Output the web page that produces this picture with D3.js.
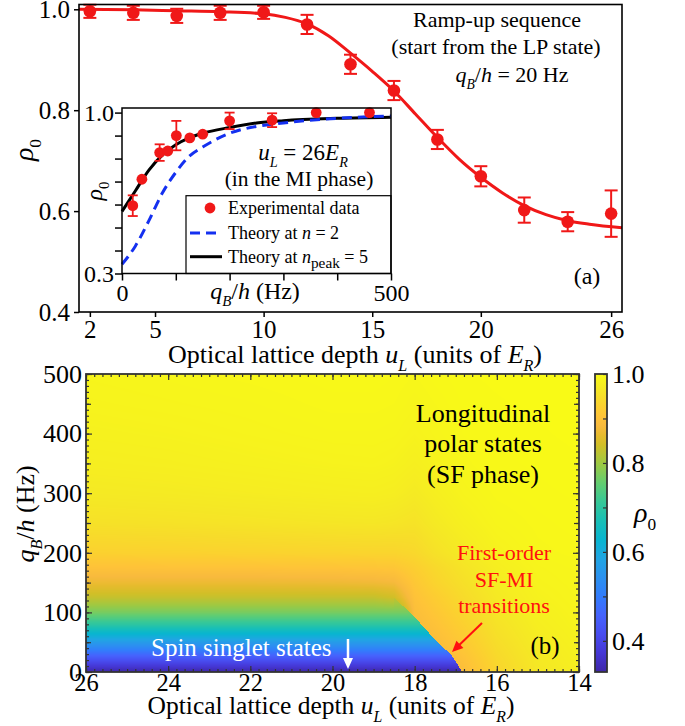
<!DOCTYPE html>
<html>
<head>
<meta charset="utf-8">
<script src="https://cdn.jsdelivr.net/npm/d3@7"></script>
<style>
body{margin:0;background:#fff}
svg{display:block}
text{font-family:"Liberation Serif","Times New Roman",serif}
</style>
</head>
<body>
<div id="chart"></div>
<script>
// ---- panel (a): ramp-up data and fit
var rampU=[2,4,6,8,10,12,14,16,18,20,22,24,26];
var rampRho=[0.996,0.993,0.987,0.993,0.994,0.970,0.891,0.839,0.742,0.669,0.602,0.579,0.595];
var rampErr=[0.013,0.014,0.014,0.014,0.013,0.019,0.019,0.019,0.019,0.020,0.025,0.019,0.046];
var fitU=[1.5,4,6,8,10,11,12,13,14,15,16,17,18,19,20,21,22,23,24,25,26.5];
var fitRho=[1.0,0.999,0.997,0.995,0.991,0.984,0.971,0.947,0.913,0.877,0.838,0.792,0.746,0.703,0.667,0.636,0.611,0.593,0.581,0.574,0.567];
var xTicksA=[2,5,10,15,20,26];
var yTicksA=[0.4,0.6,0.8,1.0];

// ---- inset: rho0 vs qB/h at uL = 26 ER
var insetQ=[20,37,70,85,101,126,150,200,279,361,460];
var insetRho=[0.595,0.71,0.826,0.833,0.90,0.89,0.906,0.964,0.967,1.0,1.0];
var insetErr=[0.045,0.01,0.036,0.01,0.064,0.01,0.01,0.036,0.03,0,0];
var theoryQ=[0,25,50,75,100,125,150,200,250,300,400,500];
var theoryN2=[0.34,0.42,0.53,0.65,0.74,0.81,0.85,0.91,0.94,0.955,0.975,0.985];
var theoryPeak=[0.57,0.66,0.75,0.815,0.86,0.89,0.91,0.935,0.955,0.965,0.975,0.98];

// ---- panel (b): rho0 map, rows = mapQ, columns = mapU
var mapU=[14,15,16,16.8,17.5,18,18.5,19,20,22,24,26];
var mapQ=[0,20,40,60,80,100,125,150,175,200,250,300,350,400,450,500];
var mapRho=[
 [0.978,0.965,0.935,0.893,0.875,0.870,0.33,0.33,0.33,0.33,0.33,0.33],
 [0.980,0.968,0.940,0.902,0.880,0.872,0.42,0.42,0.42,0.42,0.42,0.42],
 [0.982,0.971,0.946,0.912,0.887,0.875,0.52,0.52,0.52,0.52,0.52,0.52],
 [0.984,0.974,0.952,0.920,0.895,0.880,0.61,0.61,0.61,0.61,0.61,0.61],
 [0.986,0.977,0.957,0.928,0.903,0.886,0.70,0.70,0.70,0.70,0.70,0.70],
 [0.987,0.980,0.962,0.936,0.911,0.893,0.77,0.77,0.77,0.77,0.77,0.77],
 [0.989,0.983,0.968,0.945,0.921,0.902,0.84,0.83,0.83,0.83,0.83,0.83],
 [0.990,0.986,0.973,0.953,0.933,0.912,0.88,0.875,0.872,0.87,0.87,0.87],
 [0.991,0.988,0.977,0.960,0.941,0.924,0.910,0.908,0.906,0.904,0.903,0.902],
 [0.993,0.991,0.983,0.970,0.955,0.940,0.935,0.935,0.934,0.932,0.930,0.929],
 [0.995,0.993,0.989,0.980,0.969,0.958,0.962,0.964,0.963,0.960,0.957,0.955],
 [0.996,0.995,0.993,0.987,0.978,0.970,0.976,0.978,0.977,0.974,0.971,0.969],
 [0.997,0.996,0.995,0.991,0.985,0.979,0.984,0.986,0.985,0.982,0.979,0.977],
 [0.998,0.997,0.996,0.994,0.989,0.985,0.989,0.990,0.990,0.987,0.984,0.982],
 [0.998,0.998,0.997,0.996,0.992,0.989,0.992,0.993,0.993,0.990,0.988,0.986],
 [0.999,0.999,0.998,0.997,0.995,0.992,0.994,0.995,0.995,0.993,0.991,0.989]
];
// spin-singlet (MI) branch below the first-order line
var miQ=[0,20,40,60,80,100,125,150];
var miRho=[0.33,0.42,0.52,0.61,0.70,0.77,0.83,0.87];
// first-order SF-MI line
var transU=[16.84,17.1,17.5,18.0,18.5];
var transQ=[0,28,54,92,125];
var xTicksB=[26,24,22,20,18,16,14];
var yTicksB=[0,100,200,300,400,500];
var cbTicks=[0.4,0.6,0.8,1.0];

// parula colour stops
var parulaT=[0,4,8,12,16,20,24,28,32,36,40,44,48,50,52,54,56,58,60,62,63].map(function(i){return i/63});
var parulaC=["#3e26a8","#4537d5","#484df0","#4563fd","#327cfc","#2b91ef","#20a5e3","#08b5d0","#19bfb6","#37c897","#64cd6f","#9dc943","#d1bf27","#e6bb2d","#f8ba3d","#fec338","#fccf30","#f7dc2a","#f5e924","#f7f51b","#f9fb15"];

var W=685,H=726;
var RED="#f01818";
var svg=d3.select("#chart").append("svg").attr("width",W).attr("height",H);

function rich(sel,parts,size){
    var cur=0;
    parts.forEach(function(p){
        var ts=sel.append("tspan").text(p.t);
        var shift=p.sub?size*0.3:0;
        ts.attr("dy",shift-cur);
        cur=shift;
        if(p.sub) ts.attr("font-size",size*(p.small||0.62));
        if(p.i) ts.attr("font-style","italic");
    });
    return sel;
}
function addText(x,y,parts,size,anchor,fill,rot){
    var t=svg.append("text")
        .attr("font-size",size)
        .attr("text-anchor",anchor||"start")
        .attr("fill",fill||"#000");
    if(rot) t.attr("transform","translate("+x+","+y+") rotate("+rot+")");
    else t.attr("x",x).attr("y",y);
    if(typeof parts=="string") t.text(parts); else rich(t,parts,size);
    return t;
}
function interp(xs,ys,x){
    var i=Math.min(Math.max(d3.bisectRight(xs,x)-1,0),xs.length-2);
    var f=(x-xs[i])/(xs[i+1]-xs[i]);
    f=Math.max(0,Math.min(1,f));
    return ys[i]+(ys[i+1]-ys[i])*f;
}
function styleAxis(size,col){
    return function(g){
        g.select(".domain").remove();
        g.selectAll("line").attr("stroke",col||"#000").attr("stroke-width",1.5);
        g.selectAll("text").attr("font-size",size).attr("font-family","Liberation Serif").attr("fill","#000");
    };
}

// ================= panel (a)
var xA=d3.scaleLinear().domain([1.5,26.5]).range([79,622]);
var yA=d3.scaleLinear().domain([0.4,1.0095]).range([312,4.5]);

var gA=svg.append("g");
gA.append("g").attr("transform","translate(0,312)")
    .call(d3.axisBottom(xA).tickValues(xTicksA).tickSize(5).tickPadding(3).tickFormat(d3.format("d")))
    .call(styleAxis(25));
gA.append("g").attr("transform","translate(79,0)")
    .call(d3.axisLeft(yA).tickValues(yTicksA).tickSize(5).tickPadding(4).tickFormat(d3.format(".1f")))
    .call(styleAxis(25));

var fitLine=d3.line().x(function(d){return xA(d[0])}).y(function(d){return yA(d[1])}).curve(d3.curveMonotoneX);
gA.append("path").datum(d3.zip(fitU,fitRho)).attr("d",fitLine)
    .attr("fill","none").attr("stroke",RED).attr("stroke-width",3);

var rampData=rampU.map(function(u,i){return {x:u,y:rampRho[i],e:rampErr[i]}});
var eb=gA.selectAll(".eb").data(rampData).enter().append("g").attr("stroke",RED).attr("stroke-width",2);
eb.append("line").attr("x1",function(d){return xA(d.x)}).attr("x2",function(d){return xA(d.x)})
    .attr("y1",function(d){return yA(d.y-d.e)}).attr("y2",function(d){return yA(d.y+d.e)});
[1,-1].forEach(function(s){
    eb.append("line").attr("x1",function(d){return xA(d.x)-6.5}).attr("x2",function(d){return xA(d.x)+6.5})
        .attr("y1",function(d){return yA(d.y+s*d.e)}).attr("y2",function(d){return yA(d.y+s*d.e)});
});
gA.selectAll(".pt").data(rampData).enter().append("circle")
    .attr("cx",function(d){return xA(d.x)}).attr("cy",function(d){return yA(d.y)}).attr("r",6.3).attr("fill",RED);

gA.append("rect").attr("x",79).attr("y",4.5).attr("width",543).attr("height",307.5)
    .attr("fill","none").attr("stroke","#000").attr("stroke-width",1.6);

addText(497,27,"Ramp-up sequence",22,"middle");
addText(496,54,"(start from the LP state)",22,"middle");
addText(512,82,[{t:"q",i:true},{t:"B",sub:true,i:true},{t:"/"},{t:"h",i:true},{t:" = 20 Hz"}],22,"middle");
addText(587,284,"(a)",24,"middle");
addText(355,363,[{t:"Optical lattice depth "},{t:"u",i:true},{t:"L",sub:true,i:true},{t:" (units of "},{t:"E",i:true},{t:"R",sub:true,i:true},{t:")"}],26,"middle");
addText(33,150,[{t:"ρ",i:true},{t:"0",sub:true}],28,"middle","#000",-90);

// ================= inset
var xI=d3.scaleLinear().domain([0,500]).range([122,391]);
var yI=d3.scaleLinear().domain([0.3,1.02]).range([273.5,108]);
var gI=svg.append("g");
gI.append("rect").attr("x",122).attr("y",108).attr("width",269).attr("height",165.5).attr("fill","#fff");
gI.append("g").attr("transform","translate(0,273.5)")
    .call(d3.axisBottom(xI).tickValues(d3.range(0,501,100)).tickSize(7).tickPadding(3)
        .tickFormat(function(d){return (d==0||d==500)?d:""}))
    .call(styleAxis(24));
gI.append("g").attr("transform","translate(122,0)")
    .call(d3.axisLeft(yI).tickValues(d3.range(3,11).map(function(d){return d/10})).tickSize(7).tickPadding(1)
        .tickFormat(function(d){return (d==0.3||d==1)?d3.format(".1f")(d):""}))
    .call(styleAxis(24));

var thLine=d3.line().x(function(d){return xI(d[0])}).y(function(d){return yI(d[1])}).curve(d3.curveMonotoneX);
gI.append("path").datum(d3.zip(theoryQ,theoryPeak)).attr("d",thLine)
    .attr("fill","none").attr("stroke","#000").attr("stroke-width",3);
gI.append("path").datum(d3.zip(theoryQ,theoryN2)).attr("d",thLine)
    .attr("fill","none").attr("stroke","#1430f0").attr("stroke-width",3).attr("stroke-dasharray","10,6");

var inData=insetQ.map(function(q,i){return {x:q,y:insetRho[i],e:insetErr[i]}});
var ebI=gI.selectAll(".ebi").data(inData.filter(function(d){return d.e>0.015})).enter().append("g").attr("stroke",RED).attr("stroke-width",1.8);
ebI.append("line").attr("x1",function(d){return xI(d.x)}).attr("x2",function(d){return xI(d.x)})
    .attr("y1",function(d){return yI(d.y-d.e)}).attr("y2",function(d){return yI(d.y+d.e)});
[1,-1].forEach(function(s){
    ebI.append("line").attr("x1",function(d){return xI(d.x)-5}).attr("x2",function(d){return xI(d.x)+5})
        .attr("y1",function(d){return yI(d.y+s*d.e)}).attr("y2",function(d){return yI(d.y+s*d.e)});
});
gI.selectAll(".pi").data(inData).enter().append("circle")
    .attr("cx",function(d){return xI(d.x)}).attr("cy",function(d){return yI(d.y)}).attr("r",5.4).attr("fill",RED);

// legend
var lg=svg.append("g");
lg.append("rect").attr("x",186).attr("y",195.7).attr("width",205).attr("height",77.8)
    .attr("fill","#fff").attr("stroke","#000").attr("stroke-width",1.2);
lg.append("circle").attr("cx",210).attr("cy",208).attr("r",5.4).attr("fill",RED);
lg.append("line").attr("x1",190).attr("x2",222).attr("y1",233).attr("y2",233)
    .attr("stroke","#1430f0").attr("stroke-width",3).attr("stroke-dasharray","10,6");
lg.append("line").attr("x1",190).attr("x2",222).attr("y1",256.7).attr("y2",256.7)
    .attr("stroke","#000").attr("stroke-width",3);
addText(228,214,"Experimental data",18,"start");
addText(228,239,[{t:"Theory at "},{t:"n",i:true},{t:" = 2"}],18,"start");
addText(228,263,[{t:"Theory at "},{t:"n",i:true},{t:"peak",sub:true,small:0.85},{t:" = 5"}],18,"start");

svg.append("rect").attr("x",122).attr("y",108).attr("width",269).attr("height",165.5)
    .attr("fill","none").attr("stroke","#000").attr("stroke-width",1.5);

addText(303,160,[{t:"u",i:true},{t:"L",sub:true,i:true},{t:" = 26"},{t:"E",i:true},{t:"R",sub:true,i:true}],23,"middle");
addText(299,186,"(in the MI phase)",21.5,"middle");
addText(255,299,[{t:"q",i:true},{t:"B",sub:true,i:true},{t:"/"},{t:"h",i:true},{t:" (Hz)"}],24,"middle");
addText(102,191,[{t:"ρ",i:true},{t:"0",sub:true}],24,"middle","#000",-90);

// ================= panel (b)
var xB=d3.scaleLinear().domain([26,14]).range([86,579]);
var yB=d3.scaleLinear().domain([0,500]).range([672,374]);
var cScale=d3.scaleLinear().domain(parulaT.map(function(t){return 0.33+t*0.67})).range(parulaC).clamp(true);

function rhoAt(u,q){
    if(u>=transU[0]&&u<=transU[transU.length-1]&&q<interp(transU,transQ,u)) return interp(miQ,miRho,q);
    var i=Math.min(Math.max(d3.bisectRight(mapU,u)-1,0),mapU.length-2);
    var j=Math.min(Math.max(d3.bisectRight(mapQ,q)-1,0),mapQ.length-2);
    var fu=Math.max(0,Math.min(1,(u-mapU[i])/(mapU[i+1]-mapU[i])));
    var fq=Math.max(0,Math.min(1,(q-mapQ[j])/(mapQ[j+1]-mapQ[j])));
    return mapRho[j][i]*(1-fu)*(1-fq)+mapRho[j][i+1]*fu*(1-fq)+mapRho[j+1][i]*(1-fu)*fq+mapRho[j+1][i+1]*fu*fq;
}
var cw=493,ch=298;
var cv=document.createElement("canvas");cv.width=cw;cv.height=ch;
var ctx=cv.getContext("2d");
var img=ctx.createImageData(cw,ch);
for(var py=0;py<ch;py++){
    var q=yB.invert(374+py+0.5);
    for(var px=0;px<cw;px++){
        var u=xB.invert(86+px+0.5);
        var c=d3.rgb(cScale(rhoAt(u,q)));
        var k=(py*cw+px)*4;
        img.data[k]=c.r;img.data[k+1]=c.g;img.data[k+2]=c.b;img.data[k+3]=255;
    }
}
ctx.putImageData(img,0,0);
svg.append("image").attr("x",86).attr("y",374).attr("width",cw).attr("height",ch)
    .attr("preserveAspectRatio","none").attr("href",cv.toDataURL());

var FR="#333";
function ticksB(axisFn,scale,pos,vals,len){
    svg.append("g").attr("transform",pos)
        .call(axisFn(scale).tickValues(vals).tickSize(-len).tickFormat(""))
        .call(function(g){g.select(".domain").remove();g.selectAll("line").attr("stroke",FR).attr("stroke-width",1.2)});
}
var minU=d3.range(0,61).map(function(i){return 14+i*0.2});
var minQ=d3.range(0,51).map(function(i){return i*10});
var medQ=d3.range(50,500,100);
[[d3.axisBottom,"translate(0,672)"],[d3.axisTop,"translate(0,374)"]].forEach(function(a){
    ticksB(a[0],xB,a[1],minU,3);
    ticksB(a[0],xB,a[1],xTicksB,6);
});
[[d3.axisLeft,"translate(86,0)"],[d3.axisRight,"translate(579,0)"]].forEach(function(a){
    ticksB(a[0],yB,a[1],minQ,3);
    ticksB(a[0],yB,a[1],medQ,5);
    ticksB(a[0],yB,a[1],yTicksB,6);
});
svg.append("g").attr("transform","translate(0,672)")
    .call(d3.axisBottom(xB).tickValues(xTicksB).tickSize(0).tickPadding(2).tickFormat(d3.format("d")))
    .call(styleAxis(24.5));
svg.append("g").attr("transform","translate(86,0)")
    .call(d3.axisLeft(yB).tickValues(yTicksB).tickSize(0).tickPadding(4).tickFormat(d3.format("d")))
    .call(styleAxis(26));
svg.append("rect").attr("x",86).attr("y",374).attr("width",493).attr("height",298)
    .attr("fill","none").attr("stroke",FR).attr("stroke-width",1.8);

// colorbar
var yC=d3.scaleLinear().domain([0.33,1]).range([672,374]);
var grad=svg.append("defs").append("linearGradient").attr("id","parula")
    .attr("x1",0).attr("y1",1).attr("x2",0).attr("y2",0);
grad.selectAll("stop").data(parulaT).enter().append("stop")
    .attr("offset",function(d){return d}).attr("stop-color",function(d,i){return parulaC[i]});
svg.append("rect").attr("x",595).attr("y",374).attr("width",12).attr("height",298).attr("fill","url(#parula)");
svg.append("g").attr("transform","translate(607,0)")
    .call(d3.axisLeft(yC).tickValues(d3.range(4,11).map(function(d){return d/10})).tickSize(4).tickFormat(""))
    .call(function(g){g.select(".domain").remove();g.selectAll("line").attr("stroke",FR).attr("stroke-width",1.2)});
svg.append("g").attr("transform","translate(607,0)")
    .call(d3.axisRight(yC).tickValues(cbTicks).tickSize(0).tickPadding(5).tickFormat(d3.format(".1f")))
    .call(styleAxis(26));
svg.append("rect").attr("x",595).attr("y",374).attr("width",12).attr("height",298)
    .attr("fill","none").attr("stroke",FR).attr("stroke-width",1.8);
addText(634,522,[{t:"ρ",i:true},{t:"0",sub:true}],28,"start");

// texts in (b)
addText(483,422,"Longitudinal",26,"middle");
addText(483,452,"polar states",26,"middle");
addText(483,483,"(SF phase)",26,"middle");
addText(504,560,"First-order",22,"middle","#ff1010");
addText(504,587,"SF-MI",22,"middle","#ff1010");
addText(504,613,"transitions",22,"middle","#ff1010");
addText(545,654,"(b)",25,"middle");
addText(151,656,"Spin singlet states",25,"start","#fff");
addText(331,714,[{t:"Optical lattice depth "},{t:"u",i:true},{t:"L",sub:true,i:true},{t:" (units of "},{t:"E",i:true},{t:"R",sub:true,i:true},{t:")"}],25.5,"middle");
addText(34,514,[{t:"q",i:true},{t:"B",sub:true,i:true},{t:"/"},{t:"h",i:true},{t:" (Hz)"}],26,"middle","#000",-90);

// arrows
function arrow(x1,y1,x2,y2,col,w,hl,hw){
    var a=Math.atan2(y2-y1,x2-x1);
    var bx=x2-hl*Math.cos(a),by=y2-hl*Math.sin(a);
    svg.append("line").attr("x1",x1).attr("y1",y1).attr("x2",bx+2*Math.cos(a)).attr("y2",by+2*Math.sin(a))
        .attr("stroke",col).attr("stroke-width",w);
    var pts=[[x2,y2],[bx-hw*Math.sin(a),by+hw*Math.cos(a)],[bx+hw*Math.sin(a),by-hw*Math.cos(a)]];
    svg.append("path").attr("d","M"+pts.map(function(p){return p.join(",")}).join("L")+"Z").attr("fill",col);
}
arrow(482,623,452,652,"#ff1010",2,11,5);
arrow(348,639,348,669,"#fff",2.5,11,5);
</script>
</body>
</html>
